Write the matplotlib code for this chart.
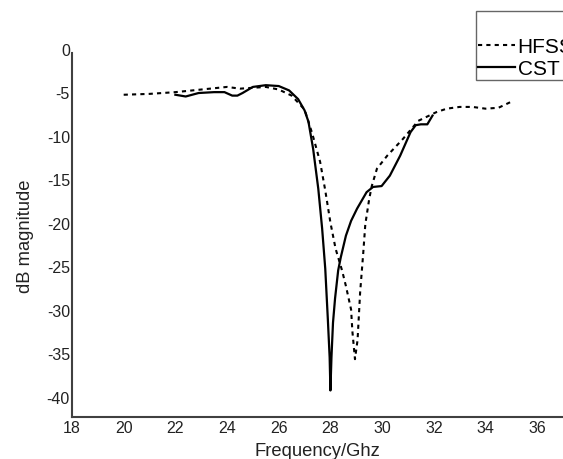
import matplotlib
matplotlib.use("Agg")
import matplotlib.pyplot as plt
from matplotlib.transforms import ScaledTranslation

plt.rcParams['font.family'] = ['Liberation Sans', 'DejaVu Sans']
plt.rcParams['axes.unicode_minus'] = False

# HFSS simulation (dotted curve)
hfss_freq = [20.0, 21.0, 22.0, 23.0, 24.0, 24.5, 25.0, 25.5, 26.0, 26.5,
             27.0, 27.3, 27.6, 27.8, 28.0, 28.2, 28.45, 28.6, 28.8, 28.85,
             28.95, 29.05, 29.15, 29.27, 29.35, 29.5, 29.6, 29.8, 30.2, 30.8,
             31.4, 32.1, 32.5, 33.0, 33.5, 34.0, 34.5, 35.0]
hfss_db = [-4.8, -4.7, -4.5, -4.2, -3.9, -4.1, -4.0, -3.9, -4.2, -4.9,
           -6.5, -9.3, -12.5, -15.8, -19.5, -22.5, -25.0, -26.8, -29.5, -32.0,
           -35.2, -33.0, -27.5, -23.0, -19.7, -16.8, -15.3, -13.3, -11.8, -9.9,
           -7.8, -6.8, -6.4, -6.2, -6.2, -6.4, -6.3, -5.6]

# CST simulation (solid curve)
cst_freq = [22.0, 22.4, 22.9, 23.5, 23.9, 24.2, 24.4, 24.6, 25.0, 25.5,
            26.0, 26.4, 26.75, 27.0, 27.15, 27.33, 27.53, 27.68, 27.8, 27.9,
            27.97, 28.0, 28.04, 28.1, 28.18, 28.3, 28.4, 28.6, 28.8, 29.03,
            29.4, 29.65, 29.98, 30.3, 30.7, 31.1, 31.3, 31.5, 31.75, 31.95]
cst_db = [-4.8, -5.0, -4.6, -4.5, -4.5, -4.9, -4.9, -4.6, -3.9, -3.7,
          -3.8, -4.3, -5.3, -6.6, -7.9, -11.0, -15.6, -20.2, -24.8, -30.6,
          -35.0, -38.8, -35.0, -31.0, -28.2, -25.0, -23.5, -21.0, -19.3, -17.9,
          -16.0, -15.4, -15.3, -14.1, -11.8, -9.1, -8.3, -8.2, -8.2, -7.2]

xticks = [18, 20, 22, 24, 26, 28, 30, 32, 34, 36]
yticks = [0, -5, -10, -15, -20, -25, -30, -35, -40]

fig = plt.figure(figsize=(5.63, 4.60), dpi=100)
ax = fig.add_axes([72 / 563, 1 - 418 / 460, 1 - 72 / 563, (418 - 54) / 460])

ax.plot(hfss_freq, hfss_db, color='black', lw=1.5, linestyle=(0, (2, 2)), label='HFSS')
ax.plot(cst_freq, cst_db, color='black', lw=1.6, label='CST')

ax.set_xlim(18, 37.0)
ax.set_ylim(-41.85, 0)
ax.set_xticks(xticks)
ax.set_yticks(yticks)
ax.tick_params(length=0, labelsize=11.5, colors='#222222')
ax.tick_params(axis='y', pad=1.5)
ax.tick_params(axis='x', pad=2)

# y tick labels sit a little above their value in the original
shift = ScaledTranslation(0, 4 / 100, fig.dpi_scale_trans)
for lbl in ax.get_yticklabels():
    lbl.set_transform(lbl.get_transform() + shift)

for side in ['top', 'right']:
    ax.spines[side].set_visible(False)
for side in ['left', 'bottom']:
    ax.spines[side].set_color('#404040')
    ax.spines[side].set_linewidth(1.5)

ax.set_xlabel('Frequency/Ghz', fontsize=13.2, color='#222222', labelpad=5)
ax.set_ylabel('dB magnitude', fontsize=13.2, color='#222222', labelpad=9)

leg = fig.legend(loc='upper left', bbox_to_anchor=(476 / 563, 1 - 12 / 460),
                 fontsize=15, handlelength=1.75, handletextpad=0.15,
                 borderpad=0.1, labelspacing=0.15, borderaxespad=0,
                 fancybox=False, title=' ', title_fontsize=16)
leg.get_frame().set_edgecolor('#404040')
leg.get_frame().set_linewidth(1.0)

plt.savefig('out.png', dpi=100)
